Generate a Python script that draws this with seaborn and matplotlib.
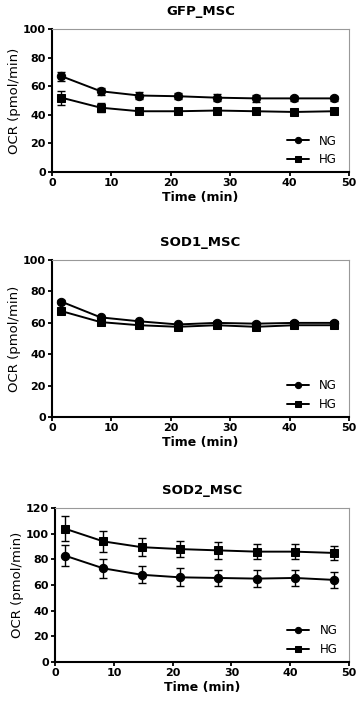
import numpy as np
import pandas as pd
import matplotlib
matplotlib.use("Agg")
import matplotlib.pyplot as plt
import seaborn as sns

# Time points (min)
time = [1.6, 8.2, 14.7, 21.2, 27.7, 34.3, 40.8, 47.4]

# GFP_MSC
gfp_ng = [67, 56.5, 53.5, 53, 52, 51.5, 51.5, 51.5]
gfp_ng_err = [3, 2.5, 2.5, 2, 2.5, 2.5, 1.5, 1.5]
gfp_hg = [52, 45, 42.5, 42.5, 43, 42.5, 42, 42.5]
gfp_hg_err = [5, 3, 2, 2, 2, 1.5, 1.5, 1.5]

# SOD1_MSC
sod1_ng = [73.5, 63.5, 61, 59, 60, 59.5, 60, 60]
sod1_ng_err = [1, 1, 1, 1, 1, 1, 1, 1]
sod1_hg = [67.5, 60.5, 58.5, 57.5, 58.5, 57.5, 58.5, 58.5]
sod1_hg_err = [1.5, 1.5, 1, 1, 1, 1, 1, 1]

# SOD2_MSC
sod2_ng = [83, 73, 68, 66, 65.5, 65, 65.5, 64]
sod2_ng_err = [8, 7.5, 6.5, 7, 6, 6.5, 6, 6]
sod2_hg = [104, 94, 89.5, 88, 87, 86, 86, 85]
sod2_hg_err = [10, 8, 7, 6.5, 6.5, 6, 6, 5.5]

panels = [
    ("GFP_MSC", gfp_ng, gfp_ng_err, gfp_hg, gfp_hg_err, 100, [0.145, 0.7546, 0.830, 0.204]),
    ("SOD1_MSC", sod1_ng, sod1_ng_err, sod1_hg, sod1_hg_err, 100, [0.145, 0.405, 0.830, 0.224]),
    ("SOD2_MSC", sod2_ng, sod2_ng_err, sod2_hg, sod2_hg_err, 120, [0.154, 0.0556, 0.821, 0.2197]),
]

sns.set_style("white", rc={'text.color': 'black', 'axes.labelcolor': 'black',
                           'xtick.color': 'black', 'ytick.color': 'black'})
plt.rcParams['font.family'] = ['DejaVu Sans']

fig = plt.figure(figsize=(3.58, 7.01), dpi=100)

for title, ng, ng_err, hg, hg_err, ymax, pos in panels:
    ax = fig.add_axes(pos)
    df = pd.DataFrame({
        'Time': time * 2,
        'OCR': ng + hg,
        'Group': ['NG'] * len(time) + ['HG'] * len(time),
    })
    sns.lineplot(data=df, x='Time', y='OCR', hue='Group', style='Group',
                 palette={'NG': 'black', 'HG': 'black'},
                 markers={'NG': 'o', 'HG': 's'}, dashes=False,
                 markersize=6, linewidth=1.4, markeredgecolor='black', ax=ax)
    ax.errorbar(time, ng, yerr=ng_err, fmt='none', ecolor='black', elinewidth=1, capsize=3, capthick=1)
    ax.errorbar(time, hg, yerr=hg_err, fmt='none', ecolor='black', elinewidth=1, capsize=3, capthick=1)

    ax.set_xlim(0, 50)
    ax.set_ylim(0, ymax)
    ax.set_xticks(range(0, 51, 10))
    ax.set_yticks(range(0, ymax + 1, 20))
    for lab in ax.get_xticklabels() + ax.get_yticklabels():
        lab.set_fontweight('bold')
        lab.set_fontsize(8)
    ax.tick_params(direction='out', length=3, width=1.3, pad=1.5, left=True, bottom=True)

    ax.set_xlabel('Time (min)', fontsize=9, fontweight='bold', labelpad=2)
    ax.set_ylabel('OCR (pmol/min)', fontsize=9.5, labelpad=1)
    ax.set_title(title, fontsize=9.5, fontweight='bold', pad=10)

    ax.spines['left'].set_linewidth(1.5)
    ax.spines['bottom'].set_linewidth(1.5)
    ax.spines['left'].set_color('black')
    ax.spines['bottom'].set_color('black')
    ax.spines['top'].set_color('#999999')
    ax.spines['right'].set_color('#999999')
    ax.spines['top'].set_linewidth(0.8)
    ax.spines['right'].set_linewidth(0.8)

    handles, labels = ax.get_legend_handles_labels()
    ax.legend(handles, labels, loc='lower right', bbox_to_anchor=(0.976, 0.01),
              borderaxespad=0, frameon=False, fontsize=8.5, markerscale=0.75,
              handlelength=1.9, handletextpad=0.85, labelspacing=0.45)

plt.savefig('out.png', dpi=100)
plt.close()
